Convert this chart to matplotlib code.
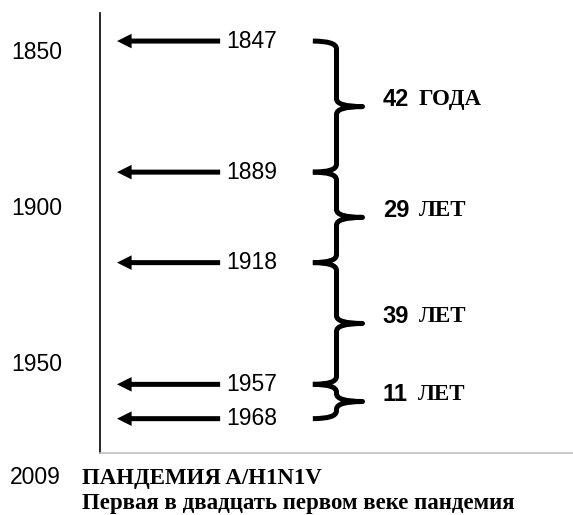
# Timeline of influenza pandemics with gaps between them
import matplotlib.pyplot as plt
from matplotlib.path import Path
from matplotlib.patches import PathPatch

plt.rcParams["font.family"] = ["Liberation Sans", "DejaVu Sans"]

# data
pandemic_years = [1847, 1889, 1918, 1957, 1968]
gap_words = ["ГОДА", "ЛЕТ", "ЛЕТ", "ЛЕТ"]
axis_years = [1850, 1900, 1950]
last_year = "2009"
last_title = "ПАНДЕМИЯ A/H1N1V"
last_note = "Первая в двадцать первом веке пандемия"

SERIF = ["Liberation Serif", "DejaVu Serif"]


def brace(ax, y0, y1, xb=0.45, xv=0.50, xt=0.555):
    ym = (y0 + y1) / 2
    r = min(2.5, (y1 - y0) / 4)
    verts = [
        (xb, y0), (xv, y0), (xv, y0 + r),
        (xv, ym - r),
        (xv, ym), (xt, ym),
        (xv, ym), (xv, ym + r),
        (xv, y1 - r),
        (xv, y1), (xb, y1),
    ]
    codes = [Path.MOVETO, Path.CURVE3, Path.CURVE3, Path.LINETO,
             Path.CURVE3, Path.CURVE3, Path.CURVE3, Path.CURVE3,
             Path.LINETO, Path.CURVE3, Path.CURVE3]
    ax.add_patch(PathPatch(Path(verts, codes), fill=False, lw=3.6,
                           ec="black", capstyle="butt", joinstyle="round"))


fig = plt.figure(figsize=(5.73, 5.15), dpi=100)
ax = fig.add_axes([0.1745, 0.1204, 0.8255, 0.8544])
ax.set_xlim(0, 1)
ax.set_ylim(1979, 1838)

for side in ["top", "right"]:
    ax.spines[side].set_visible(False)
ax.spines["left"].set_linewidth(1.2)
ax.spines["bottom"].set_color("#c0c0c0")
ax.spines["bottom"].set_linewidth(1.2)
ax.set_xticks([])
ax.set_yticks(axis_years)
ax.set_yticklabels([str(y) for y in axis_years])
ax.tick_params(axis="y", length=0, pad=27, labelsize=16.5)

# arrows pointing at the axis
for year in pandemic_years:
    ax.annotate("", xy=(0.036, year), xytext=(0.254, year),
                arrowprops=dict(arrowstyle="simple,head_length=1.05,head_width=1.05,tail_width=0.36",
                                mutation_scale=10, fc="black", ec="none",
                                shrinkA=0, shrinkB=0))
    ax.text(0.267, year, str(year), ha="left", va="center", fontsize=16.5)

# braces with the number of years between pandemics
for y0, y1, word in zip(pandemic_years[:-1], pandemic_years[1:], gap_words):
    brace(ax, y0, y1)
    ym = (y0 + y1) / 2
    num = ax.annotate(str(y1 - y0), xy=(0.598, ym), xytext=(0, 5),
                      textcoords="offset points", ha="left", va="center",
                      fontsize=17, fontweight="bold")
    ax.annotate(word, xy=(1, 0.5), xycoords=num, xytext=(7, 0),
                textcoords="offset points", ha="left", va="center",
                fontsize=16.5, fontweight="bold", family=SERIF)

fig.text(0.0175, 1 - 484 / 515, last_year, ha="left", va="baseline", fontsize=16.5)
fig.text(0.143, 1 - 484 / 515, last_title, ha="left", va="baseline", fontsize=16.5,
         fontweight="bold", family=SERIF)
fig.text(0.143, 1 - 509 / 515, last_note, ha="left", va="baseline", fontsize=16.5,
         fontweight="bold", family=SERIF)

fig.savefig("out.png", dpi=100)
